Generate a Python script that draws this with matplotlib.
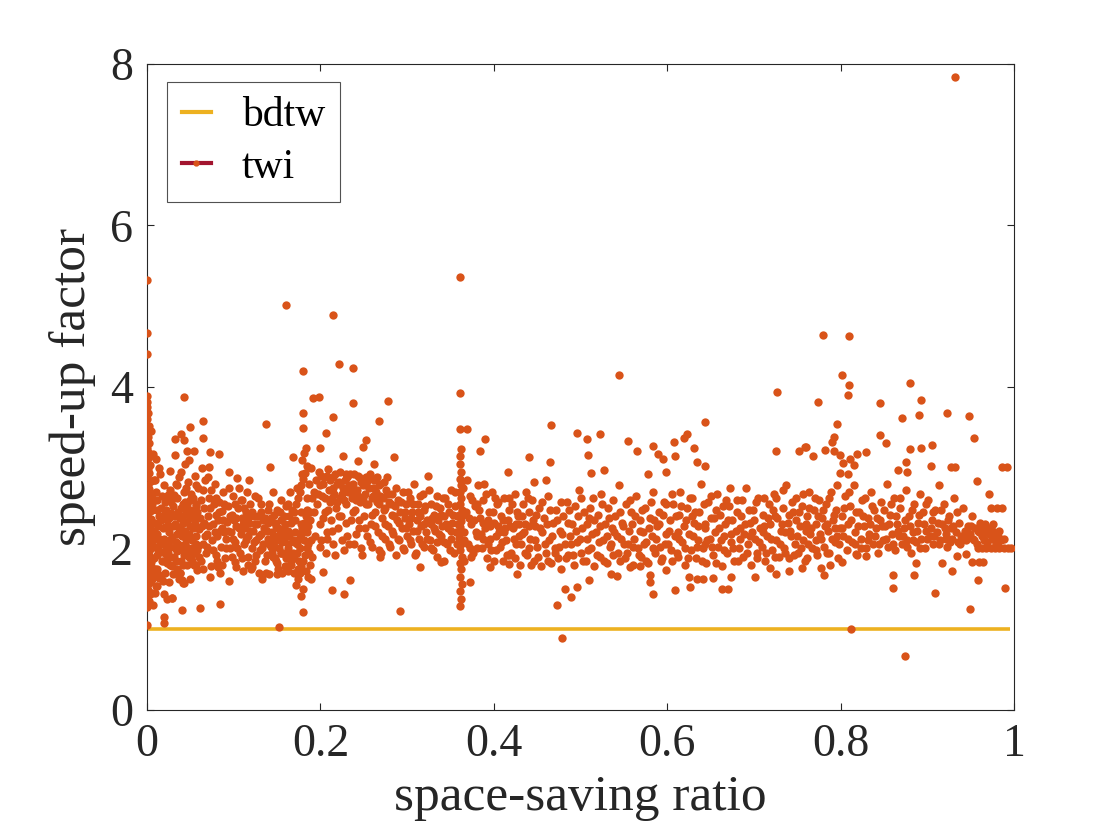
import numpy as np
import matplotlib
matplotlib.use('Agg')
import matplotlib.pyplot as plt
from matplotlib.lines import Line2D

plt.rcParams['font.family'] = ['Liberation Serif', 'DejaVu Serif']

# bdtw: speed-up factor against itself (flat line at 1)
bdtw_ratio = [0.0, 0.995]
bdtw_speedup = [1.0, 1.0]

# twi points (space-saving ratio, speed-up factor)
twi_col0 = [(0.000,1.27),(0.001,1.31),(0.002,1.35),(0.000,1.40),(0.003,1.44),(0.001,1.48),(0.000,1.53),(0.002,1.57),
            (0.004,1.61),(0.001,1.65),(0.000,1.69),(0.003,1.72),(0.002,1.76),(0.000,1.80),(0.004,1.83),(0.001,1.87),
            (0.003,1.90),(0.000,1.94),(0.002,1.97),(0.005,2.00),(0.001,2.03),(0.003,2.06),(0.000,2.09),(0.004,2.12),
            (0.002,2.15),(0.000,2.18),(0.005,2.21),(0.001,2.24),(0.003,2.27),(0.000,2.30),(0.002,2.33),(0.004,2.36),
            (0.001,2.39),(0.000,2.43),(0.003,2.46),(0.002,2.50),(0.000,2.54),(0.004,2.58),(0.001,2.62),(0.003,2.66),
            (0.000,2.70),(0.002,2.74),(0.001,2.79),(0.004,2.83),(0.000,2.88),(0.002,2.93),(0.001,2.98),(0.003,3.03),
            (0.000,3.08),(0.002,3.13),(0.001,3.19),(0.000,3.25),(0.002,3.31),(0.001,3.38),(0.000,3.45),(0.002,3.52),
            (0.000,3.60),(0.001,3.68),(0.000,3.75),(0.000,3.82),(0.000,3.89),(0.000,4.41),(0.000,4.67),(0.000,5.32),
            (0.000,1.05),(0.007,1.30),(0.006,1.45),(0.007,1.70),(0.006,2.55),(0.008,2.85),(0.005,3.46),(0.007,3.17),
            (0.010,3.11)]

twi_low = [(0.006,1.62),(0.008,1.88),(0.007,2.10),(0.009,2.32),(0.006,2.48),(0.010,2.70),(0.011,1.53),(0.012,1.75),
           (0.013,1.98),(0.011,2.18),(0.014,2.40),(0.012,2.60),(0.015,2.92),(0.016,1.63),(0.017,1.85),(0.015,2.05),
           (0.018,2.25),(0.016,2.50),(0.019,2.78),(0.020,1.44),(0.021,1.70),(0.022,1.93),(0.020,2.12),(0.023,2.35),
           (0.021,2.58),(0.024,2.66),(0.025,1.58),(0.026,1.80),(0.027,2.02),(0.025,2.20),(0.028,2.44),(0.026,2.73),
           (0.029,1.39),(0.030,1.68),(0.031,1.90),(0.029,2.14),(0.032,2.30),(0.030,2.52),(0.033,2.80),(0.034,1.75),
           (0.035,1.97),(0.033,2.08),(0.036,2.26),(0.034,2.62),(0.037,2.88),(0.038,1.70),(0.039,1.85),(0.040,2.15),
           (0.038,2.38),(0.041,2.55),(0.039,2.95),(0.042,1.57),(0.043,1.92),(0.044,2.05),(0.042,2.22),(0.045,2.47),
           (0.043,2.70),(0.046,1.80),(0.047,2.00),(0.048,2.18),(0.046,2.33),(0.049,2.60),(0.047,2.82),(0.050,1.62),
           (0.051,1.88),(0.052,2.10),(0.050,2.28),(0.053,2.42),(0.051,2.67),(0.054,1.80),(0.055,1.95),(0.056,2.16),
           (0.054,2.36),(0.057,2.52),(0.055,2.90),(0.058,1.73),(0.059,2.03),(0.060,2.24),(0.058,2.45),(0.059,2.75),
           (0.010,2.02),(0.013,2.28),(0.017,1.96),(0.019,2.42),(0.022,2.03),(0.024,2.29),(0.027,1.89),(0.028,2.58),
           (0.031,2.40),(0.032,2.00),(0.035,2.18),(0.036,2.45),(0.040,1.98),(0.041,2.31),(0.044,2.58),(0.045,2.12),
           (0.048,1.90),(0.049,2.40),(0.052,2.00),(0.053,2.25),(0.056,2.55),(0.057,2.05),(0.060,1.90),(0.009,1.75),
           (0.018,1.60),(0.023,1.82),(0.037,1.62),(0.044,3.05),(0.048,3.10),(0.026,2.96),(0.014,3.00),
           (0.043,3.88),(0.050,3.50),(0.039,3.42),(0.032,3.36),(0.043,3.34),(0.046,3.21),(0.054,3.21),(0.032,3.16),
           (0.023,1.37),(0.029,1.39),(0.040,1.24),(0.020,1.15),(0.020,1.08),(0.009,1.45),(0.010,1.53),(0.014,1.63),
           (0.040,1.61),(0.043,1.57),(0.038,1.70),(0.056,1.80)]

twi_mid1 = [(0.062,1.85),(0.064,2.05),(0.063,2.28),(0.066,2.50),(0.065,2.72),(0.068,1.95),(0.069,2.18),(0.070,2.40),
            (0.071,2.62),(0.072,3.01),(0.063,3.00),(0.074,1.78),(0.075,2.10),(0.076,2.30),(0.077,2.55),(0.078,2.80),
            (0.080,1.92),(0.081,2.15),(0.082,2.35),(0.083,2.58),(0.085,2.02),(0.086,2.25),(0.087,2.47),(0.088,2.70),
            (0.090,1.88),(0.091,2.12),(0.092,2.33),(0.093,2.52),(0.095,2.95),(0.096,2.00),(0.097,2.20),(0.098,2.42),
            (0.099,2.65),(0.101,1.83),(0.102,2.08),(0.103,2.28),(0.104,2.87),(0.105,2.50),(0.107,1.95),(0.108,2.18),
            (0.109,2.38),(0.110,2.60),(0.112,2.05),(0.113,2.25),(0.114,2.45),(0.116,1.90),(0.117,2.15),(0.118,2.32),
            (0.119,2.55),(0.121,2.00),(0.122,2.22),(0.123,2.40),(0.125,1.85),(0.126,2.10),(0.127,2.30),(0.128,2.62),
            (0.130,1.98),(0.131,2.18),(0.132,2.45),(0.134,2.05),(0.135,2.25),(0.136,2.38),(0.138,1.92),(0.139,2.12),
            (0.140,2.32),(0.141,2.55),(0.142,3.01),(0.143,2.02),(0.144,2.20),(0.146,2.42),(0.147,1.88),(0.148,2.10),
            (0.149,2.28),(0.150,2.48),(0.152,2.00),(0.153,2.18),(0.154,2.35),(0.155,2.60),(0.157,1.95),(0.158,2.12),
            (0.159,2.30),(0.160,2.52),(0.162,2.05),(0.163,2.22),(0.164,2.40),(0.165,2.70),(0.166,1.85),(0.168,3.13),
            (0.067,2.15),(0.073,1.65),(0.079,2.42),(0.084,1.70),(0.089,2.20),(0.094,1.60),(0.100,2.35),(0.106,2.75),
            (0.111,1.72),(0.115,2.70),(0.120,1.75),(0.124,2.65),(0.129,1.70),(0.133,1.62),(0.137,1.70),(0.145,2.70),
            (0.151,1.75),(0.156,1.70),(0.161,1.78),(0.167,2.48),
            (0.065,3.58),(0.065,3.37),(0.073,3.19),(0.083,3.17),(0.137,3.54),(0.160,5.02),(0.061,1.26),(0.084,1.31),
            (0.152,1.03),(0.082,1.77),(0.103,1.77),(0.121,1.77),(0.070,2.88),(0.118,2.85)]

twi_band18 = [(0.172,1.55),(0.174,1.62),(0.176,1.70),(0.178,1.78),(0.180,1.85),(0.182,1.92),(0.184,2.00),(0.173,2.05),
              (0.175,2.12),(0.177,2.18),(0.179,2.25),(0.181,2.32),(0.183,2.40),(0.185,2.48),(0.172,2.55),(0.174,2.62),
              (0.176,2.70),(0.178,2.78),(0.180,2.86),(0.182,2.94),(0.184,3.02),(0.179,3.10),(0.181,3.18),(0.183,3.25),
              (0.186,1.65),(0.188,1.80),(0.187,1.95),(0.189,2.10),(0.186,2.28),(0.188,2.45),(0.190,2.62),(0.187,2.80),
              (0.189,3.00),(0.170,1.88),(0.171,2.20),(0.169,2.45),(0.180,1.50),(0.178,1.41),(0.180,1.21),(0.180,3.49),
              (0.180,3.68),(0.180,4.20),(0.191,3.86),(0.198,3.88),
              (0.145,1.90),(0.148,2.02),(0.150,1.82),(0.153,2.10),(0.155,1.95),(0.158,2.25),(0.160,1.88),(0.162,2.00),
              (0.164,2.15),(0.166,1.80),(0.168,1.95),(0.170,2.08),(0.150,1.68),(0.141,1.68),(0.162,1.72),(0.175,1.85),
              (0.177,2.30),(0.173,1.95),(0.185,2.20),(0.190,1.90)]

twi_mid2 = [(0.193,2.70),(0.195,2.85),(0.196,2.55),(0.198,2.95),(0.199,2.30),(0.201,2.10),(0.202,2.65),(0.203,2.80),
            (0.205,2.45),(0.206,1.95),(0.207,2.90),(0.208,2.20),(0.210,2.72),(0.211,2.58),(0.212,2.35),(0.214,2.88),
            (0.215,2.05),(0.216,2.68),(0.218,2.50),(0.219,2.80),(0.220,2.25),(0.222,2.95),(0.223,2.62),(0.224,2.40),
            (0.226,2.75),(0.227,1.98),(0.228,2.85),(0.230,2.55),(0.231,2.15),(0.232,2.70),(0.234,2.92),(0.235,2.35),
            (0.236,2.62),(0.238,2.80),(0.239,2.05),(0.240,2.48),(0.242,2.72),(0.243,2.90),(0.244,2.25),(0.246,2.58),
            (0.247,2.82),(0.248,1.92),(0.250,2.40),(0.251,2.68),(0.252,2.88),(0.254,2.15),(0.255,2.55),(0.256,2.75),
            (0.258,2.30),(0.259,2.62),(0.260,2.02),(0.262,2.85),(0.263,2.45),(0.264,2.70),(0.266,2.20),(0.267,2.55),
            (0.268,2.78),(0.270,1.95),(0.271,2.38),(0.272,2.62),(0.274,2.12),(0.275,2.50),(0.276,2.72),(0.278,2.28),
            (0.279,2.58),(0.280,2.02),(0.282,2.42),(0.283,2.68),(0.284,2.18),(0.286,2.52),(0.287,1.92),(0.288,2.35),
            (0.290,2.60),(0.291,2.10),(0.292,2.45),(0.294,2.25),(0.295,2.70),(0.296,1.98),(0.298,2.38),(0.299,2.55),
            (0.300,2.15),(0.302,2.30),(0.303,2.62),(0.304,2.05),(0.306,2.45),(0.307,2.22),(0.308,2.80),(0.310,1.95),
            (0.311,2.35),(0.312,2.55),(0.314,2.12),(0.315,2.40),(0.316,2.28),(0.318,2.68),(0.319,2.02),(0.320,2.48),
            (0.322,2.20),(0.323,2.35),(0.324,2.90),(0.326,2.10),(0.327,2.55),(0.328,2.30),(0.330,1.98),(0.331,2.42),
            (0.332,2.22),(0.334,2.65),(0.335,2.08),(0.336,2.35),(0.338,2.50),(0.339,2.15),(0.340,2.28),(0.342,1.85),
            (0.343,2.40),(0.344,2.62),(0.346,2.05),(0.347,2.25),(0.348,2.45),(0.350,2.12),(0.351,2.72),(0.352,2.32),
            (0.354,1.95),(0.355,2.52),(0.356,2.20),(0.358,2.40),
            (0.200,2.78),(0.204,2.88),(0.209,2.98),(0.213,2.62),(0.217,2.92),(0.221,2.82),(0.225,2.68),(0.229,2.92),
            (0.233,2.78),(0.237,2.68),(0.241,2.60),(0.245,2.88),(0.249,2.62),(0.253,2.78),(0.257,2.92),(0.261,2.65),
            (0.265,2.88),(0.269,2.65),(0.273,2.82),(0.277,2.88),
            (0.214,4.89),(0.221,4.28),(0.237,4.23),(0.238,3.80),(0.214,3.63),(0.278,3.83),(0.268,3.58),(0.206,3.43),
            (0.253,3.34),(0.249,3.26),(0.285,3.13),(0.200,3.25),(0.226,3.15),(0.243,3.08),(0.262,3.05),(0.292,1.23),
            (0.213,1.49),(0.227,1.44),(0.234,1.61),(0.203,1.71),(0.339,1.83),(0.315,1.77),(0.269,1.89)]

twi_band36 = [(0.361,1.29),(0.362,1.38),(0.361,1.47),(0.363,1.56),(0.361,1.65),(0.362,1.74),(0.361,1.82),(0.363,1.90),
              (0.361,1.98),(0.362,2.06),(0.360,2.13),(0.363,2.20),(0.361,2.27),(0.362,2.34),(0.360,2.41),(0.363,2.48),
              (0.361,2.55),(0.362,2.62),(0.361,2.70),(0.362,2.78),(0.361,2.86),(0.362,2.95),(0.361,3.05),(0.361,3.14),
              (0.362,3.23),(0.361,3.48),(0.369,3.48),(0.361,3.93),(0.361,5.36),(0.372,1.58)]

twi_mid3 = [(0.366,2.20),(0.368,2.45),(0.370,2.05),(0.372,2.65),(0.374,2.30),(0.376,1.95),(0.378,2.52),(0.380,2.15),
            (0.382,2.78),(0.384,2.38),(0.386,2.00),(0.388,2.60),(0.390,2.25),(0.392,1.88),(0.394,2.45),(0.396,2.12),
            (0.398,2.70),(0.400,2.32),(0.402,1.98),(0.404,2.55),(0.406,2.20),(0.408,2.40),(0.410,1.85),(0.412,2.62),
            (0.414,2.10),(0.416,2.35),(0.418,2.48),(0.420,1.95),(0.422,2.25),(0.424,2.68),(0.426,2.05),(0.428,2.40),
            (0.430,1.80),(0.432,2.18),(0.434,2.55),(0.436,2.30),(0.438,1.92),(0.440,2.45),(0.442,2.12),(0.444,2.60),
            (0.446,1.85),(0.448,2.28),(0.450,2.02),(0.452,2.50),(0.454,1.78),(0.456,2.20),(0.458,2.38),(0.460,1.95),
            (0.462,2.65),(0.464,2.10),(0.466,1.82),(0.468,2.32),(0.470,2.00),(0.472,2.48),(0.474,1.88),(0.476,2.22),
            (0.478,1.75),(0.480,2.40),(0.482,2.05),(0.484,2.58),(0.486,1.92),(0.488,2.15),(0.490,2.30),(0.492,1.80),
            (0.494,2.52),(0.496,2.08),(0.498,2.72),(0.500,1.95),(0.502,2.25),(0.504,2.45),(0.506,1.85),(0.508,2.12),
            (0.510,2.38),(0.512,2.00),(0.514,2.62),(0.516,1.78),(0.518,2.20),(0.520,2.42),(0.522,1.90),(0.524,2.68),
            (0.526,2.10),(0.528,2.30),(0.530,1.82),(0.532,2.50),(0.534,2.02),(0.536,2.25),(0.538,1.92),(0.540,2.40),
            (0.542,2.15),(0.544,2.78),(0.546,1.85),(0.548,2.32),(0.550,2.05),(0.552,2.55),(0.554,1.95),(0.556,2.22),
            (0.558,2.45),(0.560,1.80),(0.562,2.12),(0.564,2.65),(0.566,2.00),(0.568,2.35),(0.570,1.90),(0.572,2.20),
            (0.574,2.50),(0.576,2.08),(0.578,1.82),(0.580,2.38),(0.582,2.15),(0.584,2.70),(0.586,1.95),(0.588,2.28),
            (0.590,2.45),(0.592,2.02),(0.594,1.88),(0.596,2.58),(0.598,2.18),
            (0.369,2.85),(0.373,2.00),(0.377,2.35),(0.381,2.55),(0.385,2.18),(0.389,2.80),(0.393,2.35),(0.397,1.98),
            (0.401,2.62),(0.405,2.28),(0.409,2.08),(0.413,2.25),(0.417,1.92),(0.421,2.55),(0.425,2.30),(0.429,2.15),
            (0.433,2.40),(0.437,2.70),(0.441,2.00),(0.445,2.35),
            (0.390,3.36),(0.384,3.21),(0.466,3.53),(0.440,3.13),(0.465,3.07),(0.416,2.95),(0.446,2.82),(0.460,2.85),
            (0.473,1.30),(0.482,1.50),(0.479,0.89),(0.427,1.68),(0.396,1.77),(0.418,1.81),(0.544,4.15),(0.496,3.43),
            (0.522,3.42),(0.507,3.36),(0.509,3.16),(0.555,3.33),(0.565,3.21),(0.583,3.27),(0.589,3.17),(0.595,3.11),
            (0.599,2.95),(0.578,2.92),(0.527,2.97),(0.512,2.93),(0.584,1.44),(0.489,1.40),(0.496,1.52),(0.510,1.61),
            (0.580,1.58),(0.580,1.67),(0.535,1.68),(0.542,1.66),(0.557,1.77),(0.569,1.78),(0.599,1.73)]

twi_high1 = [(0.601,2.05),(0.603,2.35),(0.605,1.85),(0.607,2.55),(0.609,2.15),(0.611,1.95),(0.613,2.42),(0.615,2.70),
             (0.617,2.08),(0.619,2.28),(0.621,1.80),(0.623,2.50),(0.625,2.18),(0.627,1.98),(0.629,2.62),(0.631,2.32),
             (0.633,1.88),(0.635,2.10),(0.637,2.45),(0.639,2.80),(0.641,2.00),(0.643,2.25),(0.645,1.82),(0.647,2.58),
             (0.649,2.12),(0.651,2.38),(0.653,1.92),(0.655,2.20),(0.657,2.68),(0.659,2.02),(0.661,2.42),(0.663,1.78),
             (0.665,2.15),(0.667,2.30),(0.669,1.95),(0.671,2.52),(0.673,2.08),(0.675,2.35),(0.677,1.85),(0.679,2.22),
             (0.681,2.60),(0.683,2.00),(0.685,2.40),(0.687,1.90),(0.689,2.18),(0.691,2.75),(0.693,2.05),(0.695,2.32),
             (0.697,1.80),(0.699,2.48),(0.701,2.12),(0.703,1.95),(0.705,2.62),(0.707,2.25),(0.709,2.02),(0.711,2.42),
             (0.713,1.85),(0.715,2.15),(0.717,2.55),(0.719,2.30),(0.721,1.98),(0.723,2.68),(0.725,2.10),(0.727,2.38),
             (0.729,1.90),(0.731,2.22),(0.733,2.50),(0.735,2.00),(0.737,2.78),(0.739,2.32),(0.741,1.88),(0.743,2.15),
             (0.745,2.45),(0.747,2.05),(0.749,2.62),(0.751,1.95),(0.753,2.28),(0.755,2.52),(0.757,2.10),(0.759,1.85),
             (0.761,2.40),(0.763,2.70),(0.765,2.18),(0.767,2.00),(0.769,2.48),(0.771,2.30),(0.773,1.92),(0.775,2.60),
             (0.777,2.12),(0.779,2.38),(0.781,2.02),(0.783,2.55),(0.785,2.22),(0.787,1.95),(0.789,2.70),(0.791,2.35),
             (0.793,2.08),(0.795,2.48),(0.797,1.88),(0.799,2.25),
             (0.612,2.20),(0.628,2.40),(0.644,2.05),(0.656,2.48),(0.668,2.60),(0.684,2.25),(0.698,2.20),(0.712,2.28),
             (0.724,2.40),(0.736,2.20),(0.748,2.35),(0.760,2.22),(0.772,2.10),(0.784,2.30),(0.796,2.15),
             (0.727,3.94),(0.644,3.57),(0.608,3.32),(0.609,3.15),(0.619,3.37),(0.623,3.42),(0.631,3.24),(0.634,3.07),
             (0.644,3.02),(0.725,3.21),(0.752,3.21),(0.760,3.26),(0.609,1.49),(0.626,1.52),(0.663,1.50),(0.670,1.50),
             (0.625,1.65),(0.634,1.62),(0.641,1.62),(0.653,1.63),(0.674,1.65),(0.701,1.65),(0.719,1.76),(0.725,1.68),
             (0.740,1.72),(0.755,1.76),(0.761,1.88),(0.780,4.64),(0.774,3.82),(0.768,3.15),(0.759,3.26),(0.781,1.67),
             (0.777,1.76),(0.788,1.80)]

twi_high2 = [(0.801,2.40),(0.803,2.15),(0.805,2.65),(0.807,1.98),(0.809,2.30),(0.811,2.52),(0.813,2.08),(0.815,2.78),
             (0.817,2.20),(0.819,1.92),(0.821,2.45),(0.823,2.12),(0.825,2.60),(0.827,2.28),(0.829,2.00),(0.831,2.38),
             (0.833,2.18),(0.835,2.70),(0.837,2.05),(0.839,2.48),(0.841,2.25),(0.843,1.95),(0.845,2.35),(0.847,2.58),
             (0.849,2.10),(0.851,2.28),(0.853,2.80),(0.855,2.02),(0.857,2.42),(0.859,2.18),(0.861,2.62),(0.863,1.98),
             (0.865,2.30),(0.867,2.15),(0.869,2.50),(0.871,2.05),(0.873,2.25),(0.875,2.72),(0.877,2.10),(0.879,2.40),
             (0.881,1.95),(0.883,2.20),(0.885,2.55),(0.887,2.08),(0.889,2.32),(0.891,2.68),(0.893,2.12),(0.895,2.45),
             (0.897,2.00),(0.899,2.22),(0.901,2.60),(0.903,2.15),(0.905,2.35),(0.907,2.05),(0.909,2.48),(0.911,2.20),
             (0.913,2.78),(0.915,2.10),(0.917,2.30),(0.919,2.55),(0.921,2.18),(0.923,2.02),(0.925,2.40),(0.927,2.25),
             (0.929,2.12),(0.931,2.62),(0.933,2.20),(0.935,2.08),(0.937,2.32),(0.939,2.15),(0.941,2.50),(0.943,2.22),
             (0.945,2.10),(0.947,2.28),(0.949,2.18),(0.951,2.40),(0.953,2.12),(0.955,2.25),(0.957,2.05),(0.959,2.20),
             (0.961,2.32),(0.963,2.15),(0.965,2.10),(0.967,2.22),(0.969,2.08),(0.971,2.18),(0.973,2.25),(0.975,2.12),
             (0.977,2.20),(0.979,2.05),(0.981,2.15),(0.983,2.22),(0.985,2.10),
             (0.958,2.00),(0.963,2.00),(0.968,2.00),(0.973,2.00),(0.978,2.00),(0.983,2.00),(0.988,2.00),(0.993,2.00),
             (0.997,2.00),(0.973,2.50),(0.980,2.50),(0.986,2.50),(0.986,3.01),(0.992,3.01),
             (0.810,4.63),(0.802,4.15),(0.810,4.03),(0.809,3.90),(0.880,4.05),(0.893,3.84),(0.845,3.80),(0.923,3.68),
             (0.948,3.64),(0.890,3.65),(0.871,3.61),(0.932,7.84),(0.782,3.22),(0.792,3.21),(0.790,3.32),(0.792,3.38),
             (0.796,3.54),(0.845,3.41),(0.852,3.31),(0.880,3.23),(0.893,3.24),(0.905,3.28),(0.954,3.37),(0.799,3.16),
             (0.811,3.11),(0.819,3.17),(0.829,3.20),(0.803,3.06),(0.815,3.03),(0.809,2.92),(0.799,2.93),(0.866,2.97),
             (0.875,3.07),(0.877,2.95),(0.904,3.02),(0.927,3.01),(0.932,3.01),(0.957,2.84),(0.971,2.67),(0.860,1.67),
             (0.860,1.51),(0.885,1.67),(0.909,1.45),(0.949,1.25),(0.958,1.61),(0.990,1.51),(0.928,1.72),(0.917,1.82),
             (0.887,1.82),(0.951,1.83),(0.960,1.83),(0.964,1.83),(0.802,1.83),(0.818,1.93),(0.829,1.91),(0.812,1.00),
             (0.874,0.67),(0.934,1.91),(0.945,1.93)]

# extra points filling the dense parts of the cloud
twi_fill_a = [(0.005,1.78),(0.008,2.22),(0.006,2.62),(0.011,1.92),(0.012,2.48),(0.009,2.85),(0.014,2.12),(0.016,2.35),
              (0.013,1.68),(0.018,2.05),(0.017,2.65),(0.019,1.85),(0.021,2.26),(0.022,2.48),(0.024,1.95),(0.025,2.38),
              (0.027,2.60),(0.026,2.10),(0.029,1.78),(0.030,2.28),(0.031,2.66),(0.033,1.85),(0.034,2.40),(0.036,2.05),
              (0.035,2.78),(0.038,2.25),(0.039,2.50),(0.041,1.80),(0.042,2.40),(0.044,2.22),(0.045,2.75),(0.047,1.95),
              (0.046,2.55),(0.049,2.12),(0.050,2.48),(0.052,1.85),(0.053,2.62),(0.055,2.30),(0.057,2.78),(0.058,1.98),
              (0.061,2.38),(0.062,2.60),(0.064,1.75),(0.066,2.32),(0.067,2.85),(0.069,2.02),(0.071,2.28),(0.073,2.50),
              (0.074,2.72),(0.076,1.98),(0.078,2.20),(0.079,2.62),(0.081,1.85),(0.083,2.45),(0.084,2.22),(0.086,1.80),
              (0.088,2.35),(0.089,2.55),(0.091,2.00),(0.093,2.22),(0.094,2.75),(0.096,2.40),(0.098,1.90),(0.099,2.12),
              (0.101,2.55),(0.103,2.38),(0.104,2.00),(0.106,2.25),(0.108,2.60),(0.109,1.88),(0.111,2.30),(0.112,2.50),
              (0.114,2.10),(0.116,2.38),(0.117,1.80),(0.119,2.22),(0.121,2.45),(0.123,2.08),(0.124,2.30),(0.126,1.92),
              (0.128,2.40),(0.129,2.15),(0.131,2.55),(0.133,2.00),(0.134,2.35),(0.136,1.85),(0.138,2.22),(0.139,2.48),
              (0.141,2.05),(0.143,2.38),(0.144,1.95),(0.146,2.15),(0.148,2.32),(0.149,1.85),(0.151,2.25),(0.153,2.45),
              (0.154,1.95),(0.156,2.08),(0.158,2.40),(0.159,1.78),(0.161,2.18),(0.163,2.55),(0.164,1.92),(0.166,2.32),
              (0.168,2.10),(0.169,1.70),(0.171,2.35),(0.173,2.75),(0.174,1.75),(0.176,2.00),(0.177,2.45),(0.179,2.92),
              (0.181,2.10),(0.183,1.72),(0.184,2.62),(0.186,2.05),(0.188,2.35),(0.189,1.62)]

twi_fill_b = [(0.192,2.45),(0.194,2.15),(0.197,2.68),(0.199,2.02),(0.201,2.90),(0.203,2.38),(0.205,2.62),(0.207,2.12),
              (0.209,2.48),(0.211,2.85),(0.213,2.22),(0.215,2.75),(0.217,1.92),(0.219,2.58),(0.221,2.40),(0.223,2.80),
              (0.225,2.10),(0.227,2.60),(0.229,2.32),(0.231,2.88),(0.233,2.05),(0.235,2.72),(0.237,2.45),(0.239,2.92),
              (0.241,2.18),(0.243,2.65),(0.245,2.35),(0.247,2.00),(0.249,2.78),(0.251,2.25),(0.253,2.55),(0.255,2.85),
              (0.257,2.08),(0.259,2.42),(0.261,2.75),(0.263,2.28),(0.265,2.58),(0.267,1.98),(0.269,2.80),(0.271,2.15),
              (0.273,2.48),(0.275,2.30),(0.277,2.68),(0.279,2.05),(0.281,2.55),(0.283,2.22),(0.285,2.40),(0.287,2.75),
              (0.289,2.12),(0.291,2.32),(0.293,2.58),(0.295,2.00),(0.297,2.45),(0.299,2.25),(0.301,2.70),(0.303,2.10),
              (0.305,2.38),(0.307,2.55),(0.309,1.92),(0.311,2.22),(0.313,2.45),(0.315,2.65),(0.317,2.05),(0.319,2.30),
              (0.321,2.52),(0.323,2.12),(0.325,2.72),(0.327,2.00),(0.329,2.38),(0.331,2.25),(0.333,2.52),(0.335,1.90),
              (0.337,2.18),(0.339,2.42),(0.341,2.62),(0.343,2.08),(0.345,2.30),(0.347,2.55),(0.349,1.98),(0.351,2.22),
              (0.353,2.42),(0.355,2.70),(0.357,2.05),(0.359,2.30),(0.364,2.42),(0.365,2.10),(0.364,2.75),(0.365,1.85)]

twi_fill_c = [(0.371,2.38),(0.374,1.90),(0.375,2.60),(0.379,2.20),(0.381,2.00),(0.383,2.48),(0.387,2.32),(0.388,2.12),
              (0.391,2.68),(0.393,2.05),(0.395,2.28),(0.399,2.45),(0.400,1.85),(0.403,2.15),(0.405,2.58),(0.407,2.02),
              (0.411,2.35),(0.412,2.20),(0.415,1.92),(0.417,2.62),(0.419,2.28),(0.423,2.12),(0.424,1.88),(0.427,2.45),
              (0.429,2.30),(0.431,2.05),(0.435,2.20),(0.436,1.95),(0.439,2.62),(0.441,2.28),(0.443,1.80),(0.447,2.10),
              (0.449,2.42),(0.451,1.90),(0.453,2.25),(0.455,2.58),(0.459,2.05),(0.461,2.30),(0.463,1.85),(0.465,2.48),
              (0.467,2.15),(0.471,1.95),(0.473,2.35),(0.475,2.02),(0.477,2.58),(0.479,2.18),(0.483,1.88),(0.485,2.32),
              (0.487,2.48),(0.489,2.05),(0.491,1.92),(0.495,2.22),(0.497,2.40),(0.499,2.12),(0.501,2.62),(0.503,1.85),
              (0.507,2.30),(0.509,1.98),(0.511,2.50),(0.513,2.18),(0.515,2.35),(0.519,1.92),(0.521,2.08),(0.523,2.28),
              (0.525,2.55),(0.527,1.85),(0.531,2.15),(0.533,2.38),(0.535,2.05),(0.537,2.60),(0.539,2.20),(0.543,1.95),
              (0.545,2.45),(0.547,2.12),(0.549,2.28),(0.551,1.88),(0.555,2.05),(0.557,2.60),(0.559,2.30),(0.561,2.02),
              (0.563,2.40),(0.567,1.92),(0.569,2.22),(0.571,2.48),(0.573,2.05),(0.575,1.85),(0.579,2.25),(0.581,2.58),
              (0.583,2.00),(0.585,2.35),(0.587,2.12),(0.591,2.30),(0.593,1.85),(0.595,2.42),(0.597,2.05),(0.599,2.55)]

twi_fill_d = [(0.602,2.22),(0.604,1.98),(0.606,2.68),(0.610,2.40),(0.612,1.90),(0.614,2.12),(0.616,2.52),(0.620,2.00),
              (0.622,2.35),(0.624,1.88),(0.626,2.62),(0.630,2.15),(0.632,2.45),(0.634,2.02),(0.636,2.28),(0.640,1.85),
              (0.642,2.55),(0.644,2.30),(0.646,2.10),(0.650,2.65),(0.652,2.02),(0.654,2.38),(0.656,1.82),(0.660,2.25),
              (0.662,2.10),(0.664,2.52),(0.666,1.98),(0.670,2.35),(0.672,2.75),(0.674,2.18),(0.676,2.00),(0.680,2.45),
              (0.682,1.85),(0.684,2.12),(0.686,2.60),(0.690,2.30),(0.692,1.95),(0.694,2.48),(0.696,2.15),(0.700,2.35),
              (0.702,2.58),(0.704,1.88),(0.706,2.08),(0.710,2.20),(0.712,2.62),(0.714,1.95),(0.716,2.38),(0.720,2.12),
              (0.722,2.48),(0.724,1.90),(0.726,2.62),(0.730,2.05),(0.732,2.30),(0.734,2.72),(0.736,1.95),(0.740,2.42),
              (0.742,2.22),(0.744,2.58),(0.746,1.92),(0.750,2.15),(0.752,2.45),(0.754,2.00),(0.756,2.68),(0.760,2.30),
              (0.762,2.05),(0.764,2.50),(0.766,2.25),(0.770,2.62),(0.772,1.98),(0.774,2.40),(0.776,2.18),(0.780,2.48),
              (0.782,2.28),(0.784,1.95),(0.786,2.62),(0.790,2.12),(0.792,2.42),(0.794,2.25),(0.796,2.78),(0.798,2.05)]

twi_fill_e = [(0.802,2.25),(0.804,2.50),(0.808,2.12),(0.810,2.70),(0.812,2.35),(0.816,2.05),(0.818,2.45),(0.820,2.28),
              (0.824,2.00),(0.826,2.40),(0.828,2.62),(0.832,2.10),(0.834,2.30),(0.836,2.52),(0.840,2.15),(0.842,2.38),
              (0.844,2.05),(0.848,2.28),(0.850,2.48),(0.852,2.12),(0.856,2.30),(0.858,2.55),(0.860,2.05),(0.864,2.40),
              (0.866,2.22),(0.868,2.62),(0.872,2.15),(0.874,2.35),(0.876,2.02),(0.880,2.28),(0.882,2.48),(0.884,2.10),
              (0.888,2.22),(0.890,2.42),(0.892,2.00),(0.896,2.30),(0.898,2.55),(0.900,2.12),(0.904,2.25),(0.906,2.45),
              (0.908,2.15),(0.912,2.32),(0.914,2.05),(0.916,2.48),(0.920,2.25),(0.922,2.12),(0.924,2.35),(0.926,2.08),
              (0.930,2.28),(0.934,2.45),(0.938,2.05),(0.942,2.12),(0.946,2.20),(0.950,2.28),(0.954,2.10),(0.958,2.22),
              (0.962,2.25),(0.966,2.30),(0.970,2.25),(0.976,2.30),(0.982,2.08),(0.988,2.12)]

twi_all = np.array(twi_col0 + twi_low + twi_mid1 + twi_band18 + twi_mid2 + twi_band36
                   + twi_mid3 + twi_high1 + twi_high2
                   + twi_fill_a + twi_fill_b + twi_fill_c + twi_fill_d + twi_fill_e)

c_bdtw = '#EDB120'
c_twi = '#D95319'
c_twi_line = '#A2142F'
c_axis = '#262626'

fig = plt.figure(figsize=(11.2, 8.4), dpi=100)
ax = fig.add_axes([0.1313, 0.1548, 0.7741, 0.769])

ax.plot(bdtw_ratio, bdtw_speedup, color=c_bdtw, lw=2.6, solid_capstyle='butt', zorder=2)
ax.plot(twi_all[:, 0], twi_all[:, 1], 'o', ms=6.0, mew=0, color=c_twi, zorder=3)

ax.set_xlim(0, 1)
ax.set_ylim(0, 8)
ax.set_xticks([0, 0.2, 0.4, 0.6, 0.8, 1])
ax.set_xticklabels(['0', '0.2', '0.4', '0.6', '0.8', '1'])
ax.set_yticks([0, 2, 4, 6, 8])
ax.tick_params(direction='in', top=True, right=True, length=5, width=0.8,
               labelsize=33, colors=c_axis, pad=10)
for s in ax.spines.values():
    s.set_color(c_axis)
    s.set_linewidth(0.8)

ax.set_xlabel('space-saving ratio', fontsize=37, color=c_axis, labelpad=6)
ax.set_ylabel('speed-up factor', fontsize=37, color=c_axis, labelpad=10)

handles = [Line2D([], [], color=c_bdtw, lw=3),
           Line2D([], [], color=c_twi_line, lw=3, marker='o', ms=3.5,
                  mfc=c_twi, mec=c_twi, markevery=[1])]
leg = ax.legend(handles, ['bdtw', 'twi'], loc='upper left', bbox_to_anchor=(0.023, 0.972),
                borderaxespad=0, fontsize=30, frameon=True, fancybox=False,
                handlelength=0.7, handletextpad=0.75, labelspacing=0.32, borderpad=0.35)
leg.get_frame().set_edgecolor(c_axis)
leg.get_frame().set_linewidth(0.8)

plt.savefig('out.png', dpi=100)
